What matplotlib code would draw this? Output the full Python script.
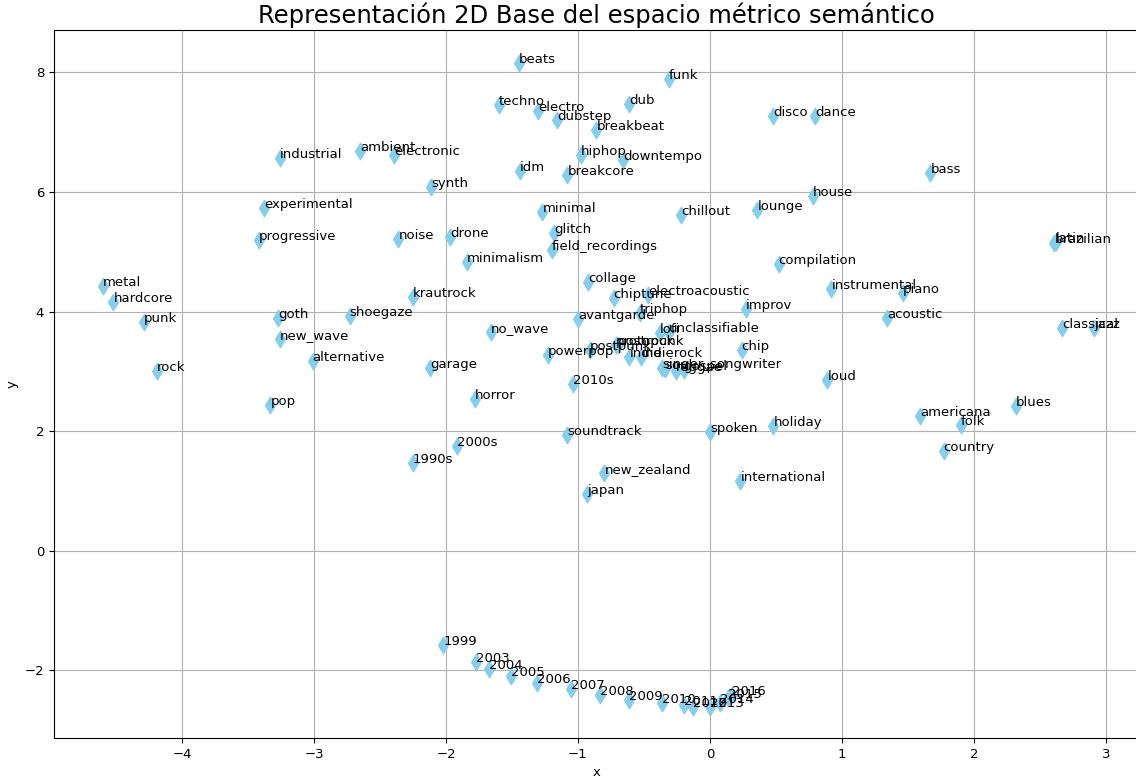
import matplotlib.pyplot as plt

# 2D projection of the tag embeddings
tags = [
    "beats", "funk", "techno", "electro", "dubstep", "dub", "breakbeat",
    "disco", "dance", "industrial", "ambient", "electronic", "hiphop",
    "downtempo", "idm", "breakcore", "bass", "synth", "house",
    "experimental", "minimal", "lounge", "chillout", "glitch",
    "progressive", "noise", "drone", "field_recordings", "brazilian",
    "latin", "minimalism", "compilation", "metal", "hardcore", "collage",
    "krautrock", "chiptune", "electroacoustic", "instrumental", "piano",
    "punk", "goth", "shoegaze", "triphop", "improv", "avantgarde",
    "acoustic", "classical", "jazz", "new_wave", "no_wave", "lofi",
    "unclassifiable", "alternative", "chip", "powerpop", "postpunk",
    "protopunk", "postrock", "indie", "indierock", "singer_songwriter",
    "soul", "reggae", "gospel", "garage", "rock", "loud", "2010s", "pop",
    "horror", "blues", "americana", "folk", "holiday", "soundtrack",
    "spoken", "2000s", "country", "1990s", "new_zealand", "international",
    "japan", "1999", "2003", "2004", "2005", "2006", "2007", "2008",
    "2009", "2010", "2011", "2012", "2013", "2014", "2015", "2016",
]
xs = [
    -1.45, -0.31, -1.60, -1.30, -1.16, -0.61, -0.86,
    0.48, 0.80, -3.26, -2.65, -2.39, -0.98,
    -0.66, -1.44, -1.08, 1.67, -2.11, 0.78,
    -3.38, -1.27, 0.36, -0.22, -1.18,
    -3.42, -2.36, -1.97, -1.20, 2.61,
    2.62, -1.84, 0.52, -4.60, -4.52, -0.92,
    -2.25, -0.73, -0.47, 0.92, 1.46,
    -4.29, -3.27, -2.73, -0.53, 0.27, -1.00,
    1.34, 2.67, 2.91, -3.26, -1.66, -0.38,
    -0.31, -3.01, 0.24, -1.23, -0.91,
    -0.71, -0.70, -0.61, -0.52, -0.36,
    -0.34, -0.26, -0.20, -2.12, -4.19, 0.89, -1.04, -3.33,
    -1.78, 2.32, 1.59, 1.90, 0.48, -1.08,
    0.00, -1.92, 1.77, -2.25, -0.80, 0.23,
    -0.93, -2.02, -1.77, -1.67, -1.51, -1.31, -1.05, -0.83,
    -0.61, -0.36, -0.20, -0.13, 0.00, 0.08, 0.14, 0.17,
]
ys = [
    8.16, 7.89, 7.46, 7.36, 7.21, 7.47, 7.04,
    7.27, 7.27, 6.57, 6.69, 6.62, 6.62,
    6.54, 6.35, 6.29, 6.32, 6.09, 5.94,
    5.74, 5.67, 5.70, 5.62, 5.32,
    5.20, 5.22, 5.25, 5.03, 5.15,
    5.16, 4.83, 4.80, 4.43, 4.16, 4.50,
    4.25, 4.23, 4.28, 4.38, 4.31,
    3.83, 3.90, 3.93, 3.98, 4.05, 3.88,
    3.90, 3.73, 3.73, 3.55, 3.66, 3.64,
    3.66, 3.18, 3.36, 3.28, 3.36,
    3.45, 3.44, 3.24, 3.24, 3.06,
    3.04, 3.00, 3.03, 3.06, 3.01, 2.86, 2.79, 2.44,
    2.54, 2.42, 2.26, 2.11, 2.09, 1.94,
    1.99, 1.76, 1.67, 1.47, 1.30, 1.17,
    0.95, -1.57, -1.86, -1.97, -2.09, -2.21, -2.31, -2.41,
    -2.49, -2.54, -2.57, -2.61, -2.61, -2.54, -2.46, -2.41,
]

fig = plt.figure(figsize=(11.36, 7.8), dpi=100)
ax = fig.add_axes([0.0475, 0.0538, 0.955, 0.9077])

ax.scatter(xs, ys, marker="d", s=70, color="skyblue", zorder=3)
for tag, x, y in zip(tags, xs, ys):
    ax.annotate(tag, (x, y), fontsize=9.5, zorder=4)

ax.set_xlim(-4.97, 3.25)
ax.set_ylim(-3.13, 8.71)
ax.grid(True)
ax.tick_params(labelsize=9.5)
ax.set_title("Representación 2D Base del espacio métrico semántico", fontsize=17.5, pad=5)
ax.set_xlabel("x", fontsize=9.5)
ax.set_ylabel("y", fontsize=9.5)

fig.savefig("out.png", dpi=100)
